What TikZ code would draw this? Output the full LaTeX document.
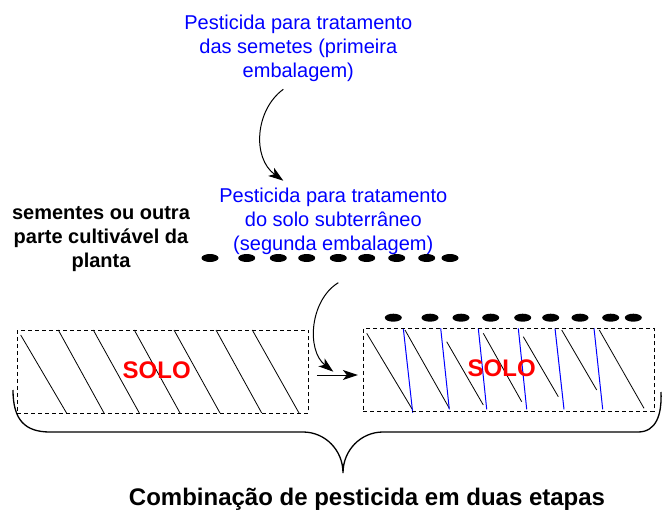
\documentclass[tikz,border=0pt]{standalone}
\usepackage{fontspec}
\setmainfont{Liberation Sans}
\usetikzlibrary{arrows.meta}
\begin{document}
\begin{tikzpicture}[x=1pt,y=-1pt,
  bluetxt/.style={text=blue, font=\fontsize{20}{24}\selectfont, align=center, inner sep=0pt},
  blacktxt/.style={font=\fontsize{20}{24}\selectfont\bfseries, align=center, inner sep=0pt},
  titletxt/.style={font=\fontsize{24}{28}\selectfont\bfseries, inner sep=0pt, anchor=base},
  soiltxt/.style={text=red, font=\fontsize{24}{28}\selectfont\bfseries, inner sep=0pt, anchor=base},
  soilbox/.style={draw, dash pattern=on 4pt off 3pt, line width=1pt, inner sep=0pt},
  hatch/.style={line width=0.8pt},
  bluehatch/.style={blue, line width=1pt},
  conn/.style={line width=1pt, -{Stealth[length=15pt,width=10pt,inset=4pt]}},
  seed/.style={fill=black},
  bracepath/.style={line width=1.3pt}
]
\useasboundingbox (0,0) rectangle (664,511);
\fill[white] (0,0) rectangle (664,511);

% texts
\node[bluetxt, anchor=north] (t1) at (298.3,14.9) {Pesticida para tratamento\\das semetes (primeira\\embalagem)};
\node[bluetxt, anchor=north] (t2) at (333.3,188) {Pesticida para tratamento\\do solo subterrâneo\\(segunda embalagem)};
\node[blacktxt, anchor=north] (t3) at (101,206) {sementes ou outra\\parte cultivável da\\planta};
\node[titletxt] (title) at (367,505.5) {Combinação de pesticida em duas etapas};

% seeds
\foreach \x in {210,246.7,278.3,306.7,338.3,366.7,396.7,426.7,450}
  \fill[seed] (\x,258) ellipse [x radius=8.5pt, y radius=4pt];
\foreach \x in {393.3,430,461,490.7,522.7,550.7,580,610.7,633.3}
  \fill[seed] (\x,317.7) ellipse [x radius=8.5pt, y radius=4pt];

% hatch lines box 1
\foreach \a/\b/\c/\d in {20.7/335/66.7/413.3, 58.3/330/104/413, 93.3/330/139.3/413, 134.3/330/180/413, 174/330/220/413, 216/330/261.7/413, 252.3/330/299/413}
  \draw[hatch] (\a,\b) -- (\c,\d);
% hatch lines box 2
\foreach \a/\b/\c/\d in {366.7/333.3/412.7/410, 405/330/449.3/408.3, 446.7/341.7/483.3/405, 483.3/333.3/521.7/401.7, 523.3/336.7/558.3/396.7, 561.7/330/596.7/390, 599.3/330/644/408.3}
  \draw[hatch] (\a,\b) -- (\c,\d);
\foreach \a/\b/\c/\d in {403.3/328.3/412.7/412.7, 440.7/328.3/449.3/409.3, 478.3/328.3/486.7/409.3, 518.3/328.3/526.7/409.3, 555/328.3/564/409.3, 594/328.3/602.7/409.3}
  \draw[bluehatch] (\a,\b) -- (\c,\d);

% boxes
\node[soilbox, minimum width=291pt, minimum height=83.3pt] (box1) at (162.8,371.7) {};
\node[soilbox, minimum width=290.7pt, minimum height=83.4pt] (box2) at (508.7,370) {};
\node[soiltxt] (solo1) at (156.7,378.6) {SOLO};
\node[soiltxt] (solo2) at (501.7,376.9) {SOLO};

% connectors
\coordinate (c1s) at (283.3,89.3);
\coordinate (c1e) at (283.3,180.7);
\draw[conn] (c1s) .. controls (255,110) and (252,158) .. (c1e);
\coordinate (c2s) at (338.3,282.7);
\coordinate (c2e) at (333.3,371.7);
\draw[conn] (c2s) .. controls (310,300) and (306,350) .. (c2e);
\coordinate (c3s) at ([xshift=8pt]box1.east |- 0,375);
\coordinate (c3e) at ([xshift=-5pt]box2.west |- 0,375);
\draw[conn] (c3s) -- (c3e);

% brace
\draw[bracepath] (13,390) .. controls (13,420) and (25,432) .. (50,432) -- (303,432)
  .. controls (325,432) and (343,450) .. (343,473)
  .. controls (343,450) and (361,432) .. (383,432) -- (638,432)
  .. controls (656,432) and (662,415) .. (661,392);
\end{tikzpicture}
\end{document}
